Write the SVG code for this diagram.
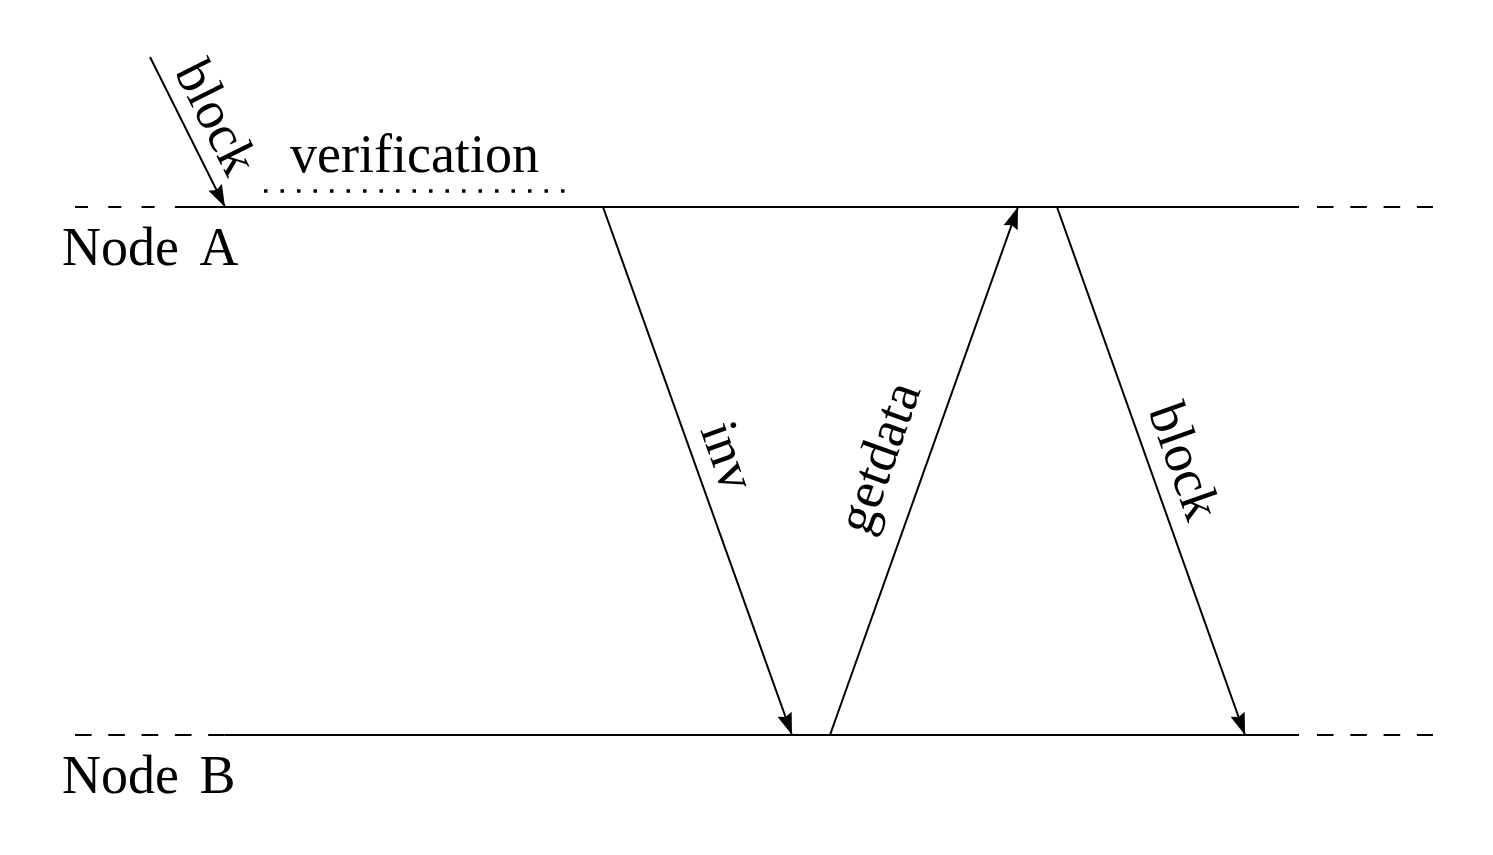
<svg xmlns="http://www.w3.org/2000/svg" width="1493" height="855" viewBox="0 0 1493 855">
<defs>
<style>
.t{font-family:"Liberation Serif","Times New Roman",serif;font-size:54px;fill:#000}
.ln{stroke:#000;stroke-width:2.2;fill:none}
.ds{stroke:#000;stroke-width:2.2;fill:none;stroke-dasharray:16.6 16.7}
.ar{stroke:#000;stroke-width:2;fill:none;marker-end:url(#ah)}
</style>
<marker id="ah" markerUnits="userSpaceOnUse" viewBox="-24 -9 26 18" refX="0" refY="0" markerWidth="26" markerHeight="18" orient="auto" overflow="visible">
<path d="M0,0 L-22,-7.5 L-19,0 L-22,7.5 Z" fill="#000"/>
</marker>
</defs>
<rect width="1493" height="855" fill="#fff"/>
<g id="nodeA">
<line class="ds" x1="75" y1="207" x2="175" y2="207" style="stroke-dasharray:13 20.3"/>
<line class="ln" x1="175" y1="207" x2="1299" y2="207"/>
<line class="ds" x1="1317" y1="207" x2="1433" y2="207"/>
<text class="t" x="62" y="265" word-spacing="10">Node A</text>
</g>
<g id="nodeB">
<line class="ds" x1="75" y1="735" x2="225" y2="735"/>
<line class="ln" x1="225" y1="735" x2="1299" y2="735"/>
<line class="ds" x1="1317" y1="735" x2="1433" y2="735"/>
<text class="t" x="62" y="793" word-spacing="7">Node B</text>
</g>
<g id="verification">
<line class="ln" x1="264" y1="191" x2="566" y2="191" style="stroke-width:3.5;stroke-dasharray:3.5 13"/>
<text class="t" x="290" y="172">verification</text>
</g>
<g id="connectors">
<line class="ar" x1="150" y1="57" x2="225" y2="207"/>
<line class="ar" x1="603" y1="207" x2="792" y2="735"/>
<line class="ar" x1="830" y1="735" x2="1018" y2="207"/>
<line class="ar" x1="1057" y1="207" x2="1245" y2="735"/>
</g>
<g id="labels">
<text class="t" text-anchor="middle" transform="translate(217,117) rotate(63.4)" y="18">block</text>
<text class="t" text-anchor="middle" transform="translate(728,456) rotate(70.3)" y="17.5">inv</text>
<text class="t" text-anchor="middle" transform="translate(883,459) rotate(-70.4)" y="12.5">getdata</text>
<text class="t" text-anchor="middle" transform="translate(1185,461) rotate(70.4)" y="18">block</text>
</g>
</svg>
